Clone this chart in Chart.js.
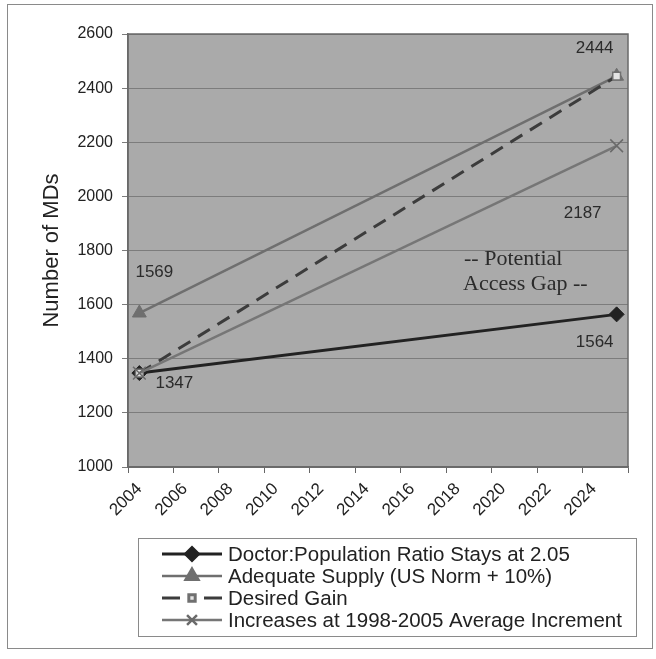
<!DOCTYPE html>
<html>
<head>
<meta charset="utf-8">
<script src="https://cdn.jsdelivr.net/npm/chart.js@4.4.1/dist/chart.umd.min.js"></script>
<style>
  html, body { margin: 0; padding: 0; background: #ffffff; }
  canvas { display: block; }
</style>
</head>
<body>
<canvas id="mdChart" width="656" height="659"></canvas>
<script>
// Year categories along the horizontal axis
const years = ['2004', '2005', '2006', '2007', '2008', '2009', '2010', '2011',
  '2012', '2013', '2014', '2015', '2016', '2017', '2018', '2019', '2020',
  '2021', '2022', '2023', '2024', '2025'];

// Projection endpoints (start year, end year)
const pointYears = ['2004', '2025'];
const doctorRatio = [1347, 1564];
const adequateSupply = [1569, 2444];
const desiredGain = [1347, 2444];
const averageIncrement = [1347, 2187];

const seriesNames = [
  'Doctor:Population Ratio Stays at 2.05',
  'Adequate Supply (US Norm + 10%)',
  'Desired Gain',
  'Increases at 1998-2005 Average Increment'
];

// Vertical axis range
const yMin = 1000;
const yMax = 2600;
const yStep = 200;

const gapNote = ['-- Potential', 'Access Gap --'];

const toPoints = vals => vals.map((v, i) => ({ x: pointYears[i], y: v }));

const FONT = '"Liberation Sans", Arial, sans-serif';
const SERIF = '"Liberation Serif", "Times New Roman", serif';

// Value callouts: which dataset/point, and where its text sits relative to the point
const callouts = [
  { ds: 0, idx: 0, dx: 35, dy: 10 },
  { ds: 0, idx: 1, dx: -22, dy: 28 },
  { ds: 1, idx: 0, dx: 15, dy: -41 },
  { ds: 2, idx: 1, dx: -22, dy: -28 },
  { ds: 3, idx: 1, dx: -34, dy: 68 }
];

const frame = {
  id: 'frame',
  beforeDraw(chart) {
    const { ctx, chartArea: a } = chart;
    ctx.save();
    ctx.fillStyle = '#ffffff';
    ctx.fillRect(0, 0, chart.width, chart.height);
    ctx.strokeStyle = '#8a8a8a';
    ctx.lineWidth = 1;
    ctx.strokeRect(7.5, 4.5, 645, 644);
    ctx.fillStyle = '#aaaaaa';
    ctx.fillRect(a.left, a.top, a.right - a.left, a.bottom - a.top);
    ctx.restore();
  },
  beforeDatasetsDraw(chart) {
    const { ctx, chartArea: a } = chart;
    ctx.save();
    ctx.strokeStyle = '#6a6a6a';
    ctx.lineWidth = 1.5;
    ctx.strokeRect(a.left, a.top, a.right - a.left, a.bottom - a.top);
    ctx.restore();
  },
  afterDraw(chart) {
    const { ctx } = chart;
    ctx.save();
    // value callouts
    ctx.font = '17px ' + FONT;
    ctx.fillStyle = '#2b2b2b';
    ctx.textAlign = 'center';
    ctx.textBaseline = 'middle';
    callouts.forEach(c => {
      const pt = chart.getDatasetMeta(c.ds).data[c.idx];
      const val = chart.data.datasets[c.ds].data[c.idx].y;
      ctx.fillText(String(val), pt.x + c.dx, pt.y + c.dy);
    });
    // gap note
    ctx.font = '22px ' + SERIF;
    ctx.textAlign = 'left';
    ctx.fillText(gapNote[0], 464, 259);
    ctx.fillText(gapNote[1], 463, 284);

    // legend
    const box = { x: 138.5, y: 538.5, w: 498, h: 98 };
    ctx.strokeStyle = '#8a8a8a';
    ctx.lineWidth = 1;
    ctx.fillStyle = '#ffffff';
    ctx.fillRect(box.x, box.y, box.w, box.h);
    ctx.strokeRect(box.x, box.y, box.w, box.h);
    const rowY = [554, 576, 598, 620];
    const legendRadius = [6.5, 7.5, 4.5, 7];
    chart.data.datasets.forEach((ds, i) => {
      const y = rowY[i];
      ctx.strokeStyle = ds.borderColor;
      ctx.lineWidth = ds.borderWidth;
      ctx.setLineDash([]);
      ctx.beginPath();
      if (ds.borderDash && ds.borderDash.length) {
        ctx.moveTo(162, y); ctx.lineTo(180, y);
        ctx.moveTo(204, y); ctx.lineTo(222, y);
      } else {
        ctx.moveTo(162, y); ctx.lineTo(222, y);
      }
      ctx.stroke();
      ctx.fillStyle = ds.pointBackgroundColor;
      ctx.strokeStyle = ds.pointBorderColor;
      Chart.helpers.drawPoint(ctx, {
        pointStyle: ds.pointStyle,
        radius: legendRadius[i],
        rotation: 0,
        borderWidth: ds.pointBorderWidth
      }, 192, y);
      ctx.fillStyle = '#222222';
      ctx.font = '20.5px ' + FONT;
      ctx.textAlign = 'left';
      ctx.textBaseline = 'middle';
      ctx.fillText(ds.label, 228, y + 1);
    });
    ctx.restore();
  }
};

new Chart(document.getElementById('mdChart'), {
  type: 'line',
  data: {
    labels: years,
    datasets: [
      {
        label: seriesNames[0],
        data: toPoints(doctorRatio),
        borderColor: '#222222',
        borderWidth: 3,
        pointStyle: 'rectRot',
        pointRadius: 7.5,
        pointBackgroundColor: '#222222',
        pointBorderColor: '#222222',
        pointBorderWidth: 1,
        order: 4
      },
      {
        label: seriesNames[1],
        data: toPoints(adequateSupply),
        borderColor: '#6f6f6f',
        borderWidth: 2.5,
        pointStyle: 'triangle',
        pointRadius: 8,
        pointBackgroundColor: '#6f6f6f',
        pointBorderColor: '#6f6f6f',
        pointBorderWidth: 1,
        order: 3
      },
      {
        label: seriesNames[2],
        data: toPoints(desiredGain),
        borderColor: '#3c3c3c',
        borderWidth: 3,
        borderDash: [14, 9],
        pointStyle: 'rect',
        pointRadius: 5.5,
        pointBackgroundColor: '#e4e4e4',
        pointBorderColor: '#707070',
        pointBorderWidth: 1.5,
        order: 2
      },
      {
        label: seriesNames[3],
        data: toPoints(averageIncrement),
        borderColor: '#767676',
        borderWidth: 2.5,
        pointStyle: 'crossRot',
        pointRadius: 9,
        pointBackgroundColor: '#6a6a6a',
        pointBorderColor: '#6a6a6a',
        pointBorderWidth: 1.5,
        order: 1
      }
    ]
  },
  options: {
    responsive: false,
    animation: false,
    events: [],
    layout: { padding: { top: 34, right: 28, left: 0, bottom: 0 } },
    plugins: {
      legend: { display: false },
      tooltip: { enabled: false }
    },
    scales: {
      x: {
        type: 'category',
        offset: true,
        grid: {
          offset: true,
          drawOnChartArea: false,
          drawTicks: true,
          tickLength: 6,
          color: ctx => (ctx.index === undefined || ctx.index % 2 === 0) ? '#666666' : 'rgba(0,0,0,0)'
        },
        border: { display: true, color: '#6a6a6a', width: 1.5 },
        ticks: {
          autoSkip: false,
          maxRotation: 45,
          minRotation: 45,
          padding: 6,
          color: '#222222',
          font: { family: FONT, size: 17 },
          callback: function (value, index) {
            return index % 2 === 0 ? this.getLabelForValue(value) : '';
          }
        },
        afterFit: s => { s.height = 192; }
      },
      y: {
        min: yMin,
        max: yMax,
        grid: {
          color: '#7c7c7c',
          lineWidth: 1,
          drawTicks: true,
          tickLength: 6
        },
        border: { display: true, color: '#6a6a6a', width: 1.5 },
        ticks: {
          stepSize: yStep,
          padding: 9,
          color: '#222222',
          font: { family: FONT, size: 16 },
          callback: value => String(value)
        },
        title: {
          display: true,
          text: 'Number of MDs',
          color: '#222222',
          font: { family: FONT, size: 22 },
          padding: { top: 39, bottom: 0 }
        },
        afterFit: s => { s.width = 128; }
      }
    }
  },
  plugins: [frame]
});
</script>
</body>
</html>
